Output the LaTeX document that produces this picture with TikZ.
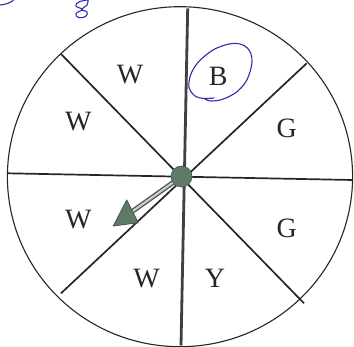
\documentclass[tikz,border=0pt]{standalone}
\usepackage{fontspec}
\setmainfont{Liberation Serif}
\definecolor{inkblue}{RGB}{45,45,170}
\definecolor{hubgreen}{RGB}{95,122,104}
\definecolor{hubdark}{RGB}{70,85,75}
\begin{document}
\begin{tikzpicture}[x=1pt,y=-1pt,
  spoke/.style={line width=1.7pt,black!85},
  mainspoke/.style={line width=2.8pt,black!75},
  rim/.style={line width=1.1pt,black!85},
  lbl/.style={font=\fontsize{28}{28}\selectfont,text=black!85,inner sep=0pt},
  ink/.style={inkblue,line width=1.1pt,line cap=round,line join=round}]
\useasboundingbox (0,0) rectangle (354,347);
\fill[white] (0,0) rectangle (354,347);
% rim
\draw[rim] (180,176.7) ellipse [x radius=172.6, y radius=170];
% spoke end points
\coordinate (T) at (187.7,8.3);
\coordinate (Bt) at (181,345.5);
\coordinate (L) at (7.3,173.3);
\coordinate (R) at (352.7,180);
\coordinate (TL) at (61,54);
\coordinate (BR) at (304,303.3);
\coordinate (TR) at (306.7,63.3);
\coordinate (BL) at (61,293.3);
\draw[spoke] (L) -- (R);
\draw[spoke] (TL) -- (BR);
\draw[spoke] (TR) -- (BL);
\draw[mainspoke] (T) -- (Bt);
% labels
\node[lbl] (w1) at (130,75) {W};
\node[lbl] (b) at (218.3,76.7) {B};
\node[lbl] (g1) at (286.7,128.3) {G};
\node[lbl] (g2) at (286.7,228.3) {G};
\node[lbl] (y) at (215,278.3) {Y};
\node[lbl] (w2) at (146.7,278.3) {W};
\node[lbl] (w3) at (78.3,220) {W};
\node[lbl] (w4) at (78.3,121.7) {W};
% pointer
\coordinate (base) at (132.5,211.3);
\draw[draw=hubdark,double=black!20,line width=1.3pt,double distance=2.2pt] (181.5,176.5) -- (base);
\fill[hubgreen,draw=hubdark,line width=0.8pt,line join=round] (126.7,200) -- (113.3,226) -- (138.3,222.7) -- cycle;
\node[circle,fill=hubgreen,draw=hubdark,line width=0.6pt,minimum size=21pt,inner sep=0pt] (hub) at (181.5,176.5) {};
% handwriting
\draw[ink] plot[smooth,tension=0.7] coordinates {(214,98) (200,98) (191,92) (189,82) (194,68) (206,55) (222,46) (240,44) (251,54) (250,72) (241,88) (226,98) (212,101) (205,99)};
\draw[ink] plot[smooth,tension=0.8] coordinates {(87,0) (79,2) (76,6) (82,9.5) (76,13.5) (78.5,17.5) (85.5,16.5) (87,12) (82,9.5) (87,5) (88,0)};
\draw[ink] (0,5) .. controls (6,4.5) and (11,2.5) .. (13.5,0);
\end{tikzpicture}
\end{document}
